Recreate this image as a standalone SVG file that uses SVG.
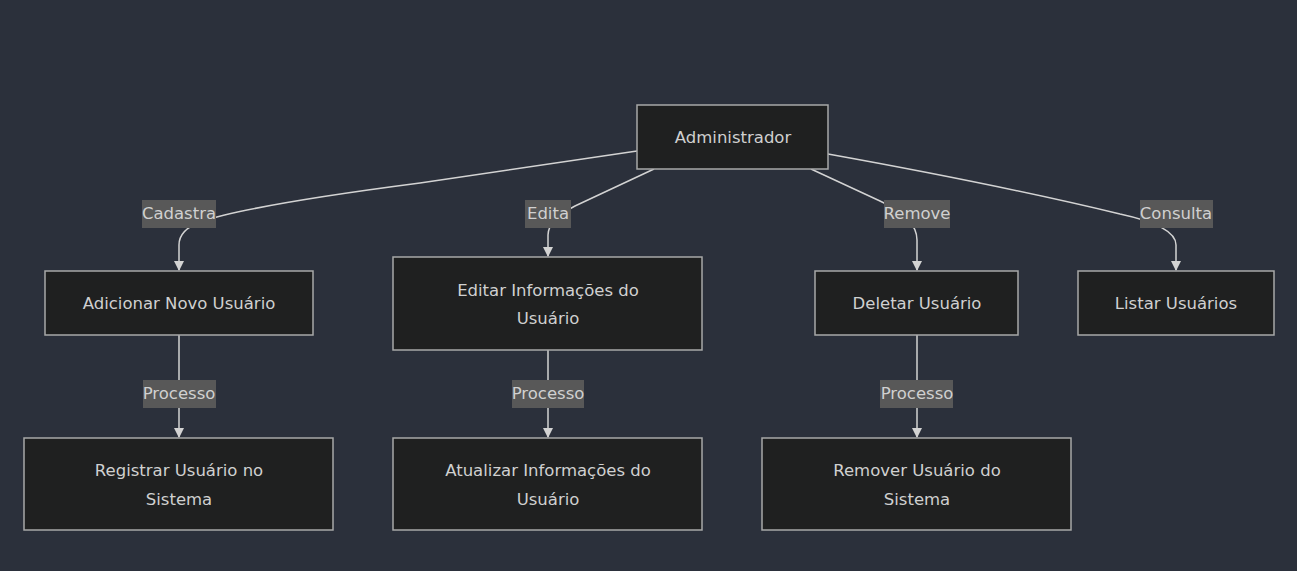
<svg xmlns="http://www.w3.org/2000/svg" width="1297" height="571" viewBox="0 0 1297 571">
<style>
.node rect{fill:#1f2020;stroke:#a8a8a8;stroke-width:1.5}
.node text,.lbl text{font-family:"DejaVu Sans",sans-serif;font-size:16.5px;fill:#d0d0d0;text-anchor:middle}
.edge{fill:none;stroke:#d3d3d3;stroke-width:1.5}
.lbl rect{fill:#585858}
</style>
<defs>
<marker id="arr" viewBox="0 0 10 10" refX="9" refY="5" markerWidth="10" markerHeight="10" markerUnits="userSpaceOnUse" orient="auto">
<path d="M0,0 L10,5 L0,10 z" fill="#d3d3d3"/>
</marker>
</defs>
<rect width="1297" height="571" fill="#2b303b"/>
<g id="connectors">
<path class="edge" d="M637,151 L420,183 Q250,205 200,222 Q179,230 179,245 L179,270" marker-end="url(#arr)"/>
<path class="edge" d="M654,169 L575,206 Q548,220 548,235 L548,256" marker-end="url(#arr)"/>
<path class="edge" d="M811,169 L880,201 Q917,218 917,240 L917,270" marker-end="url(#arr)"/>
<path class="edge" d="M828,154 Q1000,185 1120,214 Q1176,226 1176,245 L1176,270" marker-end="url(#arr)"/>
<path class="edge" d="M179,335 L179,437" marker-end="url(#arr)"/>
<path class="edge" d="M548,350 L548,437" marker-end="url(#arr)"/>
<path class="edge" d="M917,335 L917,437" marker-end="url(#arr)"/>
<g class="lbl"><rect x="142" y="200" width="74" height="28"/><text x="179" y="219">Cadastra</text></g>
<g class="lbl"><rect x="525" y="200" width="46" height="28"/><text x="548" y="219">Edita</text></g>
<g class="lbl"><rect x="884" y="200" width="66" height="28"/><text x="917" y="219">Remove</text></g>
<g class="lbl"><rect x="1140" y="200" width="73" height="28"/><text x="1176" y="219">Consulta</text></g>
<g class="lbl"><rect x="143" y="380" width="73" height="28"/><text x="179" y="399">Processo</text></g>
<g class="lbl"><rect x="512" y="380" width="72" height="28"/><text x="548" y="399">Processo</text></g>
<g class="lbl"><rect x="880" y="380" width="73" height="28"/><text x="917" y="399">Processo</text></g>
</g>
<g id="admin" class="node"><rect x="637" y="105" width="191" height="64"/><text x="733" y="143">Administrador</text></g>
<g id="adicionar" class="node"><rect x="45" y="271" width="268" height="64"/><text x="179" y="309">Adicionar Novo Usuário</text></g>
<g id="editar" class="node"><rect x="393" y="257" width="309" height="93"/><text x="548" y="296">Editar Informações do</text><text x="548" y="324">Usuário</text></g>
<g id="deletar" class="node"><rect x="815" y="271" width="203" height="64"/><text x="917" y="309">Deletar Usuário</text></g>
<g id="listar" class="node"><rect x="1078" y="271" width="196" height="64"/><text x="1176" y="309">Listar Usuários</text></g>
<g id="registrar" class="node"><rect x="24" y="438" width="309" height="92"/><text x="179" y="476">Registrar Usuário no</text><text x="179" y="505">Sistema</text></g>
<g id="atualizar" class="node"><rect x="393" y="438" width="309" height="92"/><text x="548" y="476">Atualizar Informações do</text><text x="548" y="505">Usuário</text></g>
<g id="remover" class="node"><rect x="762" y="438" width="309" height="92"/><text x="917" y="476">Remover Usuário do</text><text x="917" y="505">Sistema</text></g>
</svg>
